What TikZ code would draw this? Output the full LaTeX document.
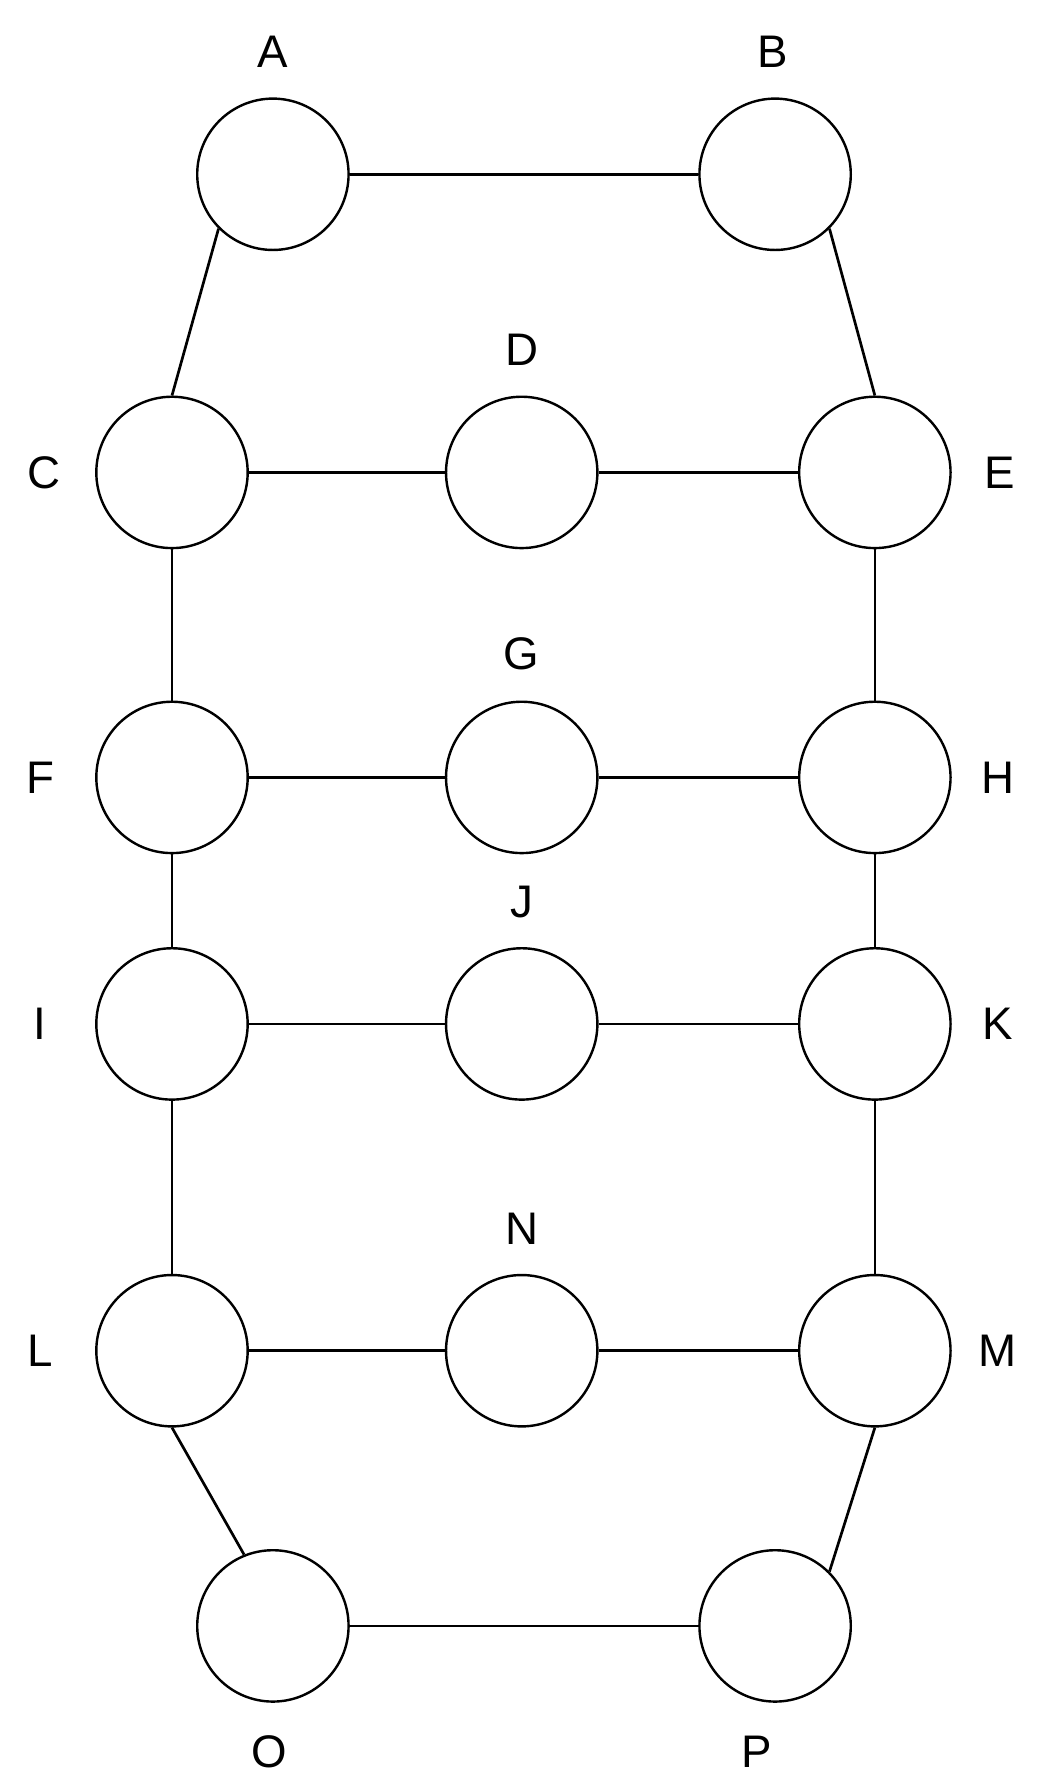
\documentclass[tikz,border=0pt]{standalone}
\usepackage{fontspec}
\setmainfont{Liberation Sans}
\begin{document}
\begin{tikzpicture}[x=0.03cm,y=-0.03cm,
  v/.style={circle,draw,line width=1.8pt,minimum size=3.96cm,inner sep=0pt},
  lab/.style={font=\fontsize{34}{40}\selectfont},
  e/.style={line width=2pt}]
\useasboundingbox (0,0) rectangle (911,1562);
\node[v] (A) at (238,152) {}; \node[v] (B) at (676,152) {};
\node[v] (C) at (150,412) {}; \node[v] (D) at (455,412) {}; \node[v] (E) at (763,412) {};
\node[v] (F) at (150,678) {}; \node[v] (G) at (455,678) {}; \node[v] (H) at (763,678) {};
\node[v] (I) at (150,893) {}; \node[v] (J) at (455,893) {}; \node[v] (K) at (763,893) {};
\node[v] (L) at (150,1178) {}; \node[v] (N) at (455,1178) {}; \node[v] (M) at (763,1178) {};
\node[v] (O) at (238,1418) {}; \node[v] (P) at (676,1418) {};
\node[lab] (lA) at (238,45) {A}; \node[lab] (lB) at (674,45) {B};
\node[lab] (lC) at (38,412) {C}; \node[lab] (lD) at (455,305) {D}; \node[lab] (lE) at (872,412) {E};
\node[lab] (lF) at (35,678) {F}; \node[lab] (lG) at (455,570) {G}; \node[lab] (lH) at (870,678) {H};
\node[lab] (lI) at (35,893) {I}; \node[lab] (lJ) at (455,787) {J}; \node[lab] (lK) at (870,893) {K};
\node[lab] (lL) at (35,1178) {L}; \node[lab] (lN) at (455,1072) {N}; \node[lab] (lM) at (870,1178) {M};
\node[lab] (lO) at (235,1528) {O}; \node[lab] (lP) at (660,1528) {P};
\draw[e] (A)--(B); \draw[e] (A.225)--(C.north); \draw[e] (B.-45)--(E.north);
\draw[e] (C)--(D); \draw[e] (D)--(E); \draw[e] (C)--(F); \draw[e] (E)--(H);
\draw[e] (F)--(G); \draw[e] (G)--(H); \draw[e] (F)--(I); \draw[e] (H)--(K);
\draw[e] (I)--(J); \draw[e] (J)--(K); \draw[e] (I)--(L); \draw[e] (K)--(M);
\draw[e] (L)--(N); \draw[e] (N)--(M); \draw[e] (L.south)--(O.112); \draw[e] (M.south)--(P.45);
\draw[e] (O)--(P);
\end{tikzpicture}
\end{document}
